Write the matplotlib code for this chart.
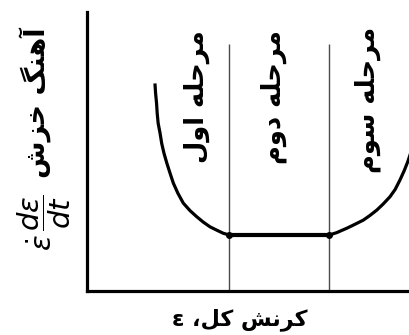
import matplotlib
matplotlib.use("Agg")
import matplotlib.pyplot as plt

# ---- data -----------------------------------------------------------------
# primary stage (strain, creep rate)
primary_strain = [2.11, 2.13, 2.16, 2.18, 2.21, 2.27, 2.32, 2.39, 2.48, 2.58,
                  2.68, 2.82, 2.99, 3.20, 3.41, 3.61, 3.82, 4.03, 4.23, 4.41]
primary_rate = [7.44, 7.09, 6.73, 6.37, 6.01, 5.65, 5.29, 4.94, 4.58, 4.22,
                3.87, 3.51, 3.15, 2.88, 2.66, 2.47, 2.30, 2.18, 2.07, 2.01]
# secondary (steady-state) stage
secondary_strain = [4.41, 7.53]
secondary_rate = [2.01, 2.01]
# tertiary stage
tertiary_strain = [7.53, 7.75, 8.07, 8.32, 8.58, 8.79, 9.00, 9.20, 9.41, 9.57,
                   9.72, 9.85, 9.96, 10.03]
tertiary_rate = [2.01, 2.09, 2.25, 2.39, 2.54, 2.71, 2.90, 3.12, 3.38, 3.64,
                 3.98, 4.31, 4.63, 4.87]
# stage boundaries and labels
stage_bounds = [4.41, 7.53]
stage_names = ["مرحله اول", "مرحله دوم", "مرحله سوم"]
x_label = "کرنش کل، ε"
y_label = "آهنگ خزش"
y_formula = r"$\dot{\varepsilon}\,\dfrac{d\varepsilon}{dt}$"

# ---- minimal Persian shaping (presentation forms, visual order) -----------
FORMS = {  # isolated, final, initial, medial
    'ا': ('\uFE8D', '\uFE8E', None, None),
    'آ': ('\uFE81', '\uFE82', None, None),
    'ر': ('\uFEAD', '\uFEAE', None, None),
    'ز': ('\uFEAF', '\uFEB0', None, None),
    'د': ('\uFEA9', '\uFEAA', None, None),
    'و': ('\uFEED', '\uFEEE', None, None),
    'م': ('\uFEE1', '\uFEE2', '\uFEE3', '\uFEE4'),
    'ح': ('\uFEA1', '\uFEA2', '\uFEA3', '\uFEA4'),
    'خ': ('\uFEA5', '\uFEA6', '\uFEA7', '\uFEA8'),
    'ل': ('\uFEDD', '\uFEDE', '\uFEDF', '\uFEE0'),
    'ه': ('\uFEE9', '\uFEEA', '\uFEEB', '\uFEEC'),
    'ن': ('\uFEE5', '\uFEE6', '\uFEE7', '\uFEE8'),
    'گ': ('\uFB92', '\uFB93', '\uFB94', '\uFB95'),
    'ک': ('\uFB8E', '\uFB8F', '\uFB90', '\uFB91'),
    'س': ('\uFEB1', '\uFEB2', '\uFEB3', '\uFEB4'),
    'ش': ('\uFEB5', '\uFEB6', '\uFEB7', '\uFEB8'),
}


def shape(text):
    out = []
    n = len(text)
    for i, ch in enumerate(text):
        if ch not in FORMS:
            out.append(ch)
            continue
        prev = text[i - 1] if i > 0 else ''
        nxt = text[i + 1] if i < n - 1 else ''
        jp = prev in FORMS and FORMS[prev][2] is not None
        jn = FORMS[ch][2] is not None and nxt in FORMS
        iso, fin, ini, med = FORMS[ch]
        if jp and jn:
            out.append(med)
        elif jp:
            out.append(fin)
        elif jn:
            out.append(ini)
        else:
            out.append(iso)
    return ''.join(reversed(out))


plt.rcParams['font.family'] = ['DejaVu Sans']
plt.rcParams['mathtext.fontset'] = 'dejavusans'

W, H = 409, 335
fig = plt.figure(figsize=(W / 100, H / 100), dpi=100)
ax = fig.add_axes([87 / W, 44 / H, 322 / W, 279 / H])
ax.set_xlim(0, 10)
ax.set_ylim(0, 10)
ax.set_xticks([])
ax.set_yticks([])
for s in ('top', 'right'):
    ax.spines[s].set_visible(False)
for s in ('left', 'bottom'):
    ax.spines[s].set_linewidth(2.3)
    ax.spines[s].set_color('black')

# stage boundaries
for xb in stage_bounds:
    ax.plot([xb, xb], [0, 8.85], color='#4a4a4a', lw=1.0, solid_capstyle='butt')

# creep-rate curve
ax.plot(primary_strain, primary_rate, color='black', lw=2.3,
        solid_joinstyle='round', solid_capstyle='butt', clip_on=False)
ax.plot(secondary_strain, secondary_rate, color='black', lw=3.0,
        solid_capstyle='round')
ax.plot(tertiary_strain, tertiary_rate, color='black', lw=2.3,
        solid_joinstyle='round', clip_on=True)
ax.plot(secondary_strain, secondary_rate, 'o', color='black', ms=4)

# stage labels (rotated)
label_pos = [(3.42, 6.95), (5.80, 6.95), (8.73, 6.85)]
for (lx, ly), name in zip(label_pos, stage_names):
    ax.text(lx, ly, shape(name), rotation=90, ha='center', va='center',
            fontsize=18.5, fontweight='bold', color='black')

# axis labels
fig.text(240 / W, 1 - 320 / H, shape(x_label), ha='center', va='center',
         fontsize=16, fontweight='bold')
fig.text(36 / W, 1 - 103 / H, shape(y_label), rotation=90, ha='center',
         va='center', fontsize=19.5, fontweight='bold')
fig.text(44 / W, 1 - 223 / H, y_formula, rotation=90, ha='center',
         va='center', fontsize=21)

fig.savefig('out.png', dpi=100)
